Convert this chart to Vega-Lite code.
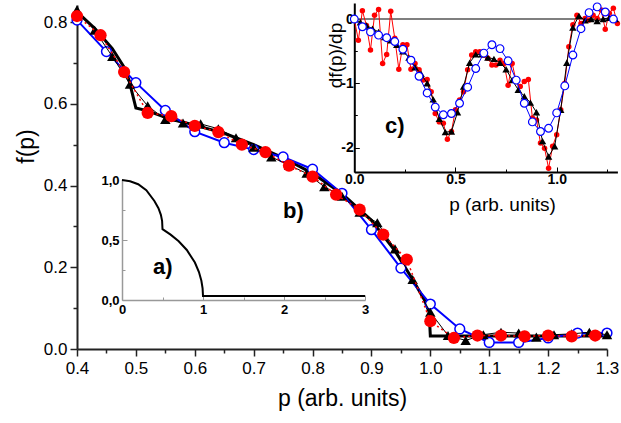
{
  "$schema": "https://vega.github.io/schema/vega-lite/v6.json",
  "width": 530,
  "height": 344,
  "autosize": {"type": "none"},
  "padding": {"left": 77, "top": 5, "right": 14, "bottom": 74},
  "background": "white",
  "config": {
    "view": {"stroke": null},
    "axis": {"grid": false, "labelFont": "Liberation Sans", "titleFont": "Liberation Sans", "labelColor": "black", "titleColor": "black", "labelFlush": false, "labelOverlap": false, "labelBound": false},
    "text": {"font": "Liberation Sans"}
  },
  "datasets": {
    "mainLine": [{"p":0.4,"f":0.825},{"p":0.43,"f":0.785},{"p":0.46,"f":0.735},{"p":0.48,"f":0.69},{"p":0.488,"f":0.66},{"p":0.5,"f":0.59},{"p":0.52,"f":0.583},{"p":0.55,"f":0.567},{"p":0.6,"f":0.548},{"p":0.65,"f":0.528},{"p":0.7,"f":0.5},{"p":0.75,"f":0.468},{"p":0.8,"f":0.43},{"p":0.85,"f":0.38},{"p":0.9,"f":0.315},{"p":0.94,"f":0.24},{"p":0.97,"f":0.17},{"p":0.99,"f":0.12},{"p":0.998,"f":0.09},{"p":1.0,"f":0.032},{"p":1.3,"f":0.032}],
    "mainRed": [{"p":0.4,"f":0.815},{"p":0.44,"f":0.768},{"p":0.48,"f":0.678},{"p":0.52,"f":0.578},{"p":0.56,"f":0.57},{"p":0.6,"f":0.546},{"p":0.64,"f":0.531},{"p":0.68,"f":0.5},{"p":0.72,"f":0.482},{"p":0.76,"f":0.449},{"p":0.8,"f":0.422},{"p":0.84,"f":0.378},{"p":0.88,"f":0.341},{"p":0.92,"f":0.28},{"p":0.96,"f":0.219},{"p":1.0,"f":0.068},{"p":1.04,"f":0.027},{"p":1.08,"f":0.033},{"p":1.12,"f":0.033},{"p":1.16,"f":0.031},{"p":1.2,"f":0.033},{"p":1.24,"f":0.031},{"p":1.28,"f":0.033}],
    "mainBlue": [{"p":0.4,"f":0.805},{"p":0.45,"f":0.728},{"p":0.5,"f":0.652},{"p":0.55,"f":0.584},{"p":0.6,"f":0.532},{"p":0.65,"f":0.505},{"p":0.7,"f":0.488},{"p":0.75,"f":0.47},{"p":0.8,"f":0.44},{"p":0.85,"f":0.381},{"p":0.9,"f":0.292},{"p":0.95,"f":0.198},{"p":1.0,"f":0.11},{"p":1.05,"f":0.049},{"p":1.1,"f":0.016},{"p":1.15,"f":0.016},{"p":1.2,"f":0.027},{"p":1.25,"f":0.039},{"p":1.3,"f":0.039}],
    "mainTri": [{"p":0.4,"f":0.83},{"p":0.43,"f":0.78},{"p":0.46,"f":0.716},{"p":0.49,"f":0.648},{"p":0.52,"f":0.595},{"p":0.55,"f":0.562},{"p":0.58,"f":0.553},{"p":0.61,"f":0.551},{"p":0.64,"f":0.539},{"p":0.67,"f":0.517},{"p":0.7,"f":0.494},{"p":0.73,"f":0.47},{"p":0.76,"f":0.45},{"p":0.79,"f":0.43},{"p":0.82,"f":0.397},{"p":0.85,"f":0.374},{"p":0.88,"f":0.335},{"p":0.91,"f":0.309},{"p":0.94,"f":0.245},{"p":0.97,"f":0.17},{"p":1.0,"f":0.09},{"p":1.03,"f":0.033},{"p":1.06,"f":0.021},{"p":1.09,"f":0.035},{"p":1.12,"f":0.041},{"p":1.15,"f":0.039},{"p":1.18,"f":0.029},{"p":1.21,"f":0.035},{"p":1.24,"f":0.037},{"p":1.27,"f":0.041},{"p":1.3,"f":0.035}],
    "insetA": [{"p":0,"f":1},{"p":0.1,"f":0.99},{"p":0.2,"f":0.965},{"p":0.3,"f":0.915},{"p":0.4,"f":0.825},{"p":0.45,"f":0.765},{"p":0.48,"f":0.71},{"p":0.495,"f":0.66},{"p":0.5,"f":0.59},{"p":0.6,"f":0.545},{"p":0.7,"f":0.49},{"p":0.8,"f":0.417},{"p":0.9,"f":0.312},{"p":0.95,"f":0.233},{"p":0.98,"f":0.16},{"p":0.995,"f":0.097},{"p":1.0,"f":0.033},{"p":3.0,"f":0.033}],
    "cRed": [{"p":0,"v":0},{"p":0.02,"v":-0.33},{"p":0.04,"v":0.13},{"p":0.06,"v":-0.1},{"p":0.08,"v":-0.48},{"p":0.1,"v":0.06},{"p":0.12,"v":0.15},{"p":0.14,"v":-0.69},{"p":0.16,"v":-0.55},{"p":0.18,"v":0.12},{"p":0.2,"v":-0.3},{"p":0.22,"v":-0.78},{"p":0.24,"v":-0.4},{"p":0.26,"v":-0.4},{"p":0.28,"v":-0.78},{"p":0.3,"v":-0.69},{"p":0.32,"v":-0.79},{"p":0.34,"v":-0.95},{"p":0.36,"v":-0.94},{"p":0.38,"v":-1.13},{"p":0.4,"v":-1.47},{"p":0.42,"v":-1.6},{"p":0.44,"v":-1.62},{"p":0.46,"v":-1.87},{"p":0.48,"v":-1.75},{"p":0.5,"v":-1.41},{"p":0.52,"v":-1.26},{"p":0.54,"v":-1.13},{"p":0.56,"v":-0.79},{"p":0.58,"v":-0.56},{"p":0.6,"v":-0.51},{"p":0.62,"v":-0.51},{"p":0.64,"v":-0.56},{"p":0.66,"v":-0.61},{"p":0.68,"v":-0.715},{"p":0.7,"v":-0.715},{"p":0.72,"v":-0.64},{"p":0.74,"v":-0.69},{"p":0.76,"v":-1.03},{"p":0.78,"v":-0.69},{"p":0.8,"v":-0.97},{"p":0.82,"v":-1.05},{"p":0.84,"v":-0.97},{"p":0.86,"v":-0.94},{"p":0.88,"v":-1.54},{"p":0.9,"v":-1.57},{"p":0.92,"v":-1.93},{"p":0.94,"v":-2.01},{"p":0.96,"v":-2.32},{"p":0.98,"v":-1.98},{"p":1.0,"v":-1.8},{"p":1.02,"v":-1.41},{"p":1.04,"v":-1.0},{"p":1.06,"v":-0.43},{"p":1.08,"v":-0.09},{"p":1.1,"v":0.06},{"p":1.12,"v":-0.07},{"p":1.14,"v":0.01},{"p":1.16,"v":-0.015},{"p":1.18,"v":0.06},{"p":1.2,"v":0.01},{"p":1.22,"v":0.14},{"p":1.24,"v":-0.16},{"p":1.26,"v":0.09},{"p":1.28,"v":0.17},{"p":1.3,"v":-0.07}],
    "cBlue": [{"p":0,"v":0},{"p":0.04,"v":-0.12},{"p":0.08,"v":-0.2},{"p":0.12,"v":-0.25},{"p":0.16,"v":-0.29},{"p":0.2,"v":-0.35},{"p":0.24,"v":-0.47},{"p":0.28,"v":-0.64},{"p":0.32,"v":-0.89},{"p":0.36,"v":-1.15},{"p":0.4,"v":-1.37},{"p":0.44,"v":-1.49},{"p":0.48,"v":-1.47},{"p":0.52,"v":-1.31},{"p":0.56,"v":-1.06},{"p":0.6,"v":-0.77},{"p":0.64,"v":-0.53},{"p":0.68,"v":-0.4},{"p":0.72,"v":-0.46},{"p":0.76,"v":-0.65},{"p":0.8,"v":-0.95},{"p":0.84,"v":-1.31},{"p":0.88,"v":-1.6},{"p":0.92,"v":-1.75},{"p":0.96,"v":-1.7},{"p":1.0,"v":-1.46},{"p":1.04,"v":-1.04},{"p":1.08,"v":-0.56},{"p":1.12,"v":-0.15},{"p":1.16,"v":0.1},{"p":1.2,"v":0.19},{"p":1.24,"v":0.11},{"p":1.28,"v":0.0}],
    "cTri": [{"p":0,"v":0},{"p":0.03,"v":-0.05},{"p":0.06,"v":-0.1},{"p":0.09,"v":-0.15},{"p":0.12,"v":-0.2},{"p":0.15,"v":-0.28},{"p":0.18,"v":-0.33},{"p":0.21,"v":-0.4},{"p":0.24,"v":-0.5},{"p":0.27,"v":-0.6},{"p":0.3,"v":-0.75},{"p":0.33,"v":-0.85},{"p":0.36,"v":-1.0},{"p":0.39,"v":-1.25},{"p":0.42,"v":-1.55},{"p":0.45,"v":-1.76},{"p":0.48,"v":-1.75},{"p":0.51,"v":-1.45},{"p":0.54,"v":-1.05},{"p":0.57,"v":-0.68},{"p":0.6,"v":-0.55},{"p":0.63,"v":-0.55},{"p":0.66,"v":-0.6},{"p":0.69,"v":-0.62},{"p":0.72,"v":-0.68},{"p":0.75,"v":-0.78},{"p":0.78,"v":-0.95},{"p":0.81,"v":-1.1},{"p":0.84,"v":-1.2},{"p":0.87,"v":-1.3},{"p":0.9,"v":-1.45},{"p":0.93,"v":-1.9},{"p":0.96,"v":-2.14},{"p":0.99,"v":-1.98},{"p":1.02,"v":-1.41},{"p":1.05,"v":-0.68},{"p":1.08,"v":-0.13},{"p":1.11,"v":0.05},{"p":1.14,"v":-0.02},{"p":1.17,"v":0.0},{"p":1.2,"v":-0.03},{"p":1.23,"v":0.0},{"p":1.26,"v":0.02},{"p":1.29,"v":0.0}]
  },
  "layer": [
    {
      "encoding": {
        "x": {"field": "p", "type": "quantitative",
          "scale": {"domain": [0.4, 1.3], "nice": false, "zero": false},
          "axis": {"orient": "bottom",
            "values": [0.4,0.45,0.5,0.55,0.6,0.65,0.7,0.75,0.8,0.85,0.9,0.95,1.0,1.05,1.1,1.15,1.2,1.25,1.3],
            "labelExpr": "abs(datum.value*10-round(datum.value*10))<0.001 ? format(datum.value,'.1f') : ''",
            "tickSize": {"condition": {"test": "abs(datum.value*10-round(datum.value*10))>0.001", "value": 4}, "value": 7},
            "tickWidth": 1.5, "tickColor": "#222", "domainWidth": 2, "domainColor": "#222",
            "labelFontSize": 17, "labelPadding": 4,
            "title": "p (arb. units)", "titleFontSize": 23, "titleFontWeight": "normal",
            "titleX": 265, "titleY": 56, "titleBaseline": "alphabetic", "titleAlign": "center", "titleAngle": 0}},
        "y": {"field": "f", "type": "quantitative",
          "scale": {"domain": [0, 0.842], "nice": false, "zero": false},
          "axis": {"orient": "left",
            "values": [0,0.1,0.2,0.3,0.4,0.5,0.6,0.7,0.8],
            "labelExpr": "abs(datum.value*5-round(datum.value*5))<0.001 ? format(datum.value,'.1f') : ''",
            "tickSize": {"condition": {"test": "abs(datum.value*5-round(datum.value*5))>0.001", "value": 4}, "value": 7},
            "tickWidth": 1.5, "tickColor": "#222", "domainWidth": 2, "domainColor": "#222",
            "labelFontSize": 17, "labelPadding": 3,
            "title": "f(p)", "titleFontSize": 23, "titleFontWeight": "normal",
            "titleX": -44, "titleY": 141, "titleBaseline": "alphabetic", "titleAlign": "center", "titleAngle": -90}}
      },
      "layer": [
        {"data": {"name": "mainLine"}, "mark": {"type": "line", "color": "black", "strokeWidth": 3}},
        {"data": {"name": "mainBlue"}, "mark": {"type": "line", "color": "#0000ff", "strokeWidth": 2}},
        {"data": {"name": "mainBlue"}, "mark": {"type": "point", "shape": "circle", "fill": "white", "filled": true, "stroke": "#0000ff", "strokeWidth": 1.5, "size": 95, "opacity": 1}},
        {"data": {"name": "mainTri"}, "mark": {"type": "line", "color": "black", "strokeWidth": 1}},
        {"data": {"name": "mainTri"}, "mark": {"type": "point", "shape": "triangle-up", "filled": true, "color": "black", "size": 110, "opacity": 1}},
        {"data": {"name": "mainRed"}, "mark": {"type": "line", "color": "#ff0000", "strokeWidth": 1.5, "strokeDash": [2, 3]}},
        {"data": {"name": "mainRed"}, "mark": {"type": "point", "shape": "circle", "filled": true, "color": "#ff0000", "size": 150, "opacity": 1}},
        {"data": {"values": [{"t": "b)", "p": 0.75, "f": 0.321}]}, "mark": {"type": "text", "align": "left", "baseline": "alphabetic", "fontSize": 22, "fontWeight": "bold", "color": "black"},
          "encoding": {"text": {"field": "t"}}}
      ]
    },
    {
      "encoding": {
        "x": {"field": "p", "type": "quantitative",
          "scale": {"domain": [0, 3], "range": [45, 288], "nice": false, "zero": false},
          "axis": {"orient": "bottom", "offset": -49,
            "values": [0,0.5,1,1.5,2,2.5,3],
            "labelExpr": "datum.value % 1 == 0 ? format(datum.value,'d') : ''",
            "tickSize": {"condition": {"test": "datum.value % 1 != 0", "value": -3}, "value": -5},
            "tickWidth": 1, "tickColor": "#999", "domainWidth": 1.5, "domainColor": "#999",
            "labelFontSize": 13, "labelFontWeight": "bold", "labelPadding": 8, "title": null}},
        "y": {"field": "f", "type": "quantitative",
          "scale": {"domain": [0, 1], "range": [295, 175], "nice": false, "zero": false},
          "axis": {"orient": "left", "offset": -45,
            "values": [0,0.25,0.5,0.75,1],
            "labelExpr": "(datum.value*2) % 1 == 0 ? replace(format(datum.value,'.1f'),'.',',') : ''",
            "tickSize": {"condition": {"test": "(datum.value*2) % 1 != 0", "value": -3}, "value": -5},
            "tickWidth": 1, "tickColor": "#999", "domainWidth": 1.5, "domainColor": "#999",
            "labelFontSize": 13, "labelFontWeight": "bold", "labelPadding": 8, "title": null}}
      },
      "layer": [
        {"data": {"name": "insetA"}, "mark": {"type": "line", "color": "black", "strokeWidth": 2}},
        {"data": {"values": [{"t": "a)", "p": 0.383, "f": 0.217}]}, "mark": {"type": "text", "align": "left", "baseline": "alphabetic", "fontSize": 22, "fontWeight": "bold", "color": "black"},
          "encoding": {"text": {"field": "t"}}}
      ]
    },
    {
      "encoding": {
        "x": {"field": "p", "type": "quantitative",
          "scale": {"domain": [0, 1.3], "range": [277.3, 540.4], "nice": false, "zero": false},
          "axis": {"orient": "bottom", "offset": -177,
            "values": [0,0.25,0.5,0.75,1,1.25],
            "labelExpr": "(datum.value*2) % 1 == 0 ? format(datum.value,'.1f') : ''",
            "tickSize": {"condition": {"test": "(datum.value*2) % 1 != 0", "value": -3}, "value": -5},
            "tickWidth": 1, "tickColor": "black", "domainWidth": 2, "domainColor": "black",
            "labelFontSize": 14, "labelFontWeight": "bold", "labelPadding": 5,
            "title": "p (arb. units)", "titleFontSize": 19, "titleFontWeight": "normal",
            "titleX": 425, "titleY": 38, "titleBaseline": "alphabetic", "titleAlign": "center", "titleAngle": 0}},
        "y": {"field": "v", "type": "quantitative",
          "scale": {"domain": [-2.38, 0.25], "range": [167, -2], "nice": false, "zero": false},
          "axis": {"orient": "left", "offset": -277.3,
            "values": [-2,-1.5,-1,-0.5,0],
            "labelExpr": "datum.value % 1 == 0 ? (datum.value == 0 ? '0' : '-' + abs(datum.value)) : ''",
            "tickSize": {"condition": {"test": "datum.value % 1 != 0", "value": -3}, "value": -5},
            "tickWidth": 1, "tickColor": "black", "domainWidth": 2, "domainColor": "black",
            "labelFontSize": 14, "labelFontWeight": "bold", "labelPadding": 6,
            "title": "df(p)/dp", "titleFontSize": 19, "titleFontWeight": "normal",
            "titleX": -13, "titleY": 50, "titleBaseline": "alphabetic", "titleAlign": "center", "titleAngle": -90}}
      },
      "layer": [
        {"data": {"values": [{"a": 0, "b": 1.3, "z": 0}]}, "mark": {"type": "rule", "color": "#555", "strokeWidth": 1.5},
          "encoding": {"x": {"field": "a", "type": "quantitative"}, "x2": {"field": "b"}, "y": {"field": "z", "type": "quantitative"}}},
        {"data": {"name": "cRed"}, "mark": {"type": "line", "color": "#ff0000", "strokeWidth": 1}},
        {"data": {"name": "cRed"}, "mark": {"type": "point", "shape": "circle", "filled": true, "color": "#ff0000", "size": 30, "opacity": 1}},
        {"data": {"name": "cTri"}, "mark": {"type": "line", "color": "black", "strokeWidth": 1}},
        {"data": {"name": "cTri"}, "mark": {"type": "point", "shape": "triangle-up", "filled": true, "color": "black", "size": 55, "opacity": 1}},
        {"data": {"name": "cBlue"}, "mark": {"type": "line", "color": "#0000ff", "strokeWidth": 1}},
        {"data": {"name": "cBlue"}, "mark": {"type": "point", "shape": "circle", "fill": "white", "filled": true, "stroke": "#0000ff", "strokeWidth": 1.2, "size": 60, "opacity": 1}},
        {"data": {"values": [{"t": "c)", "p": 0.152, "v": -1.773}]}, "mark": {"type": "text", "align": "left", "baseline": "alphabetic", "fontSize": 22, "fontWeight": "bold", "color": "black"},
          "encoding": {"text": {"field": "t"}}}
      ]
    }
  ],
  "resolve": {"scale": {"x": "independent", "y": "independent"}, "axis": {"x": "independent", "y": "independent"}}
}
